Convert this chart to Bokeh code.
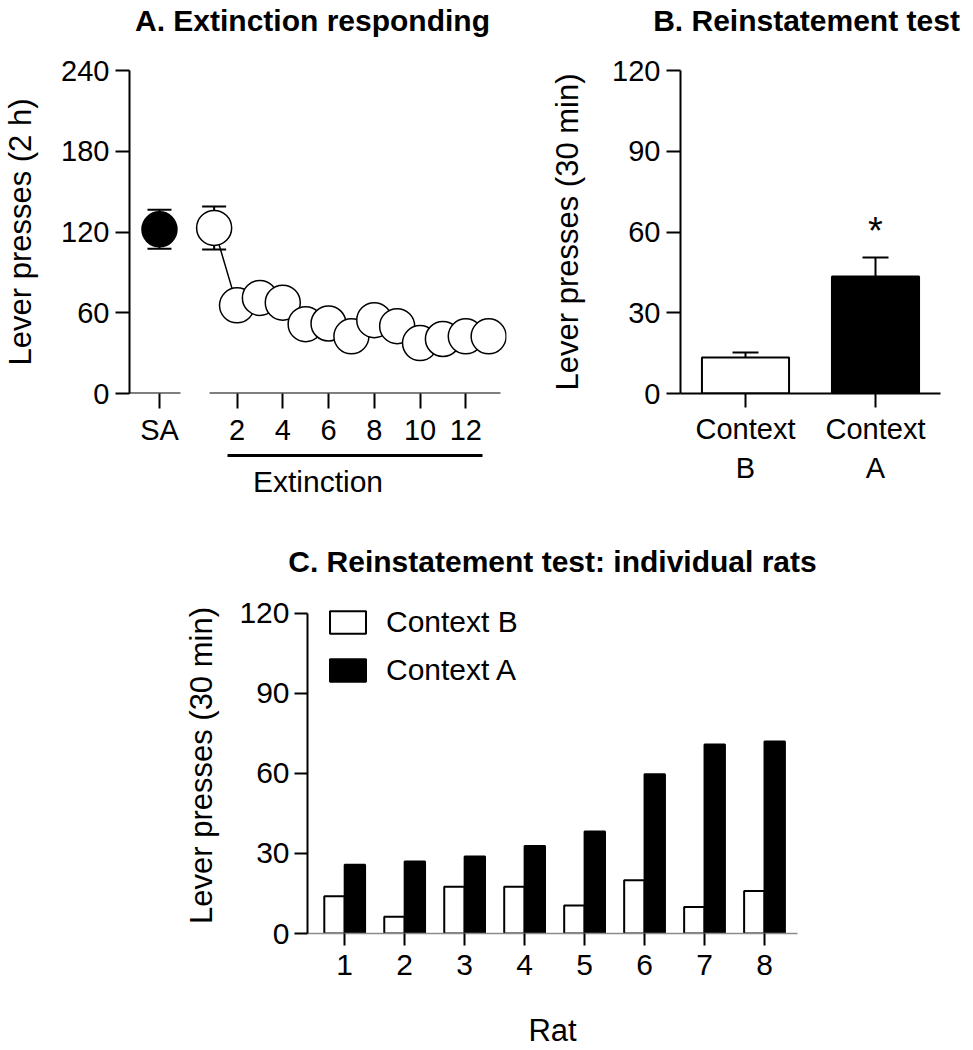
from bokeh.plotting import figure
from bokeh.models import (ColumnDataSource, LinearAxis, FixedTicker, Whisker,
                          TeeHead, Legend, LegendItem, Range1d, Label)
from bokeh.layouts import column, row
from bokeh.embed import file_html
from bokeh.resources import INLINE
from bokeh.transform import dodge, factor_cmap
from bokeh.core.properties import value

# ---------------- data ----------------
# Panel A: extinction responding (mean +/- SEM, lever presses per 2 h)
sa_label = "SA"
sa_mean = [122]
sa_sem = [14.5]
ext_session = [1, 2, 3, 4, 5, 6, 7, 8, 9, 10, 11, 12, 13]
ext_mean = [123, 65.5, 71, 67.5, 51.5, 52, 42.5, 54.5, 50, 37.5, 40.5, 42.5, 42.5]
ext_sem = [16, 7, 6, 8, 6, 7, 5, 7, 6, 5, 5, 5, 6]
ext_ticks = [2, 4, 6, 8, 10, 12]
a_yticks = [0, 60, 120, 180, 240]

# Panel B: reinstatement test (mean +/- SEM, lever presses per 30 min)
contexts = ["Context B", "Context A"]
test_mean = [13.4, 43.5]
test_sem = [1.8, 7.0]
test_sig = ["", "*"]
b_yticks = [0, 30, 60, 90, 120]

# Panel C: individual rats
rats = [1, 2, 3, 4, 5, 6, 7, 8]
rat_ctx_b = [14.0, 6.3, 17.5, 17.5, 10.5, 20.0, 9.9, 15.9]
rat_ctx_a = [25.8, 27.0, 28.9, 32.8, 38.2, 59.7, 70.8, 72.0]
c_yticks = [0, 30, 60, 90, 120]

panel_titles = ["A. Extinction responding", "B. Reinstatement test",
                "C. Reinstatement test: individual rats"]

# ---------------- style ----------------
FONT = "Liberation Sans"
INK = "#000000"


def style_axis(ax, size="29px", tick_out=14, standoff=6):
    ax.axis_line_color = INK
    ax.axis_line_width = 2
    ax.major_tick_line_color = INK
    ax.major_tick_line_width = 2
    ax.major_tick_out = tick_out
    ax.major_tick_in = 0
    ax.minor_tick_line_color = None
    ax.major_label_text_font = FONT
    ax.major_label_text_font_size = size
    ax.major_label_text_color = INK
    ax.major_label_standoff = standoff
    ax.axis_label_text_font = FONT
    ax.axis_label_text_font_style = "normal"
    ax.axis_label_text_color = INK


def bare_axis(ax):
    """Axis used only to draw a line (or only labels)."""
    ax.major_tick_out = 0
    ax.major_tick_in = 0
    ax.major_tick_line_color = None
    ax.minor_tick_line_color = None
    ax.major_label_standoff = 0


def base_fig(**kw):
    p = figure(output_backend="svg", toolbar_location=None, **kw)
    p.outline_line_color = None
    for g in p.grid:
        g.visible = False
    p.background_fill_color = "white"
    p.border_fill_color = "white"
    return p


def title_label(p, text, x, y):
    p.add_layout(Label(x=x, y=y, x_units="screen", y_units="screen", text=text,
                       text_align="center", text_baseline="alphabetic",
                       text_font=FONT, text_font_size="30px", text_font_style="bold",
                       text_color=INK))


# ---------------- title strip for panels A and B ----------------
pT = base_fig(width=973, height=40, x_range=Range1d(0, 1), y_range=Range1d(0, 1),
              x_axis_location=None, y_axis_location=None, min_border=0)
title_label(pT, panel_titles[0], 312, 20)
title_label(pT, panel_titles[1], 806, 20)

# ---------------- Panel A ----------------
XA = (-2.7, 13.78)
SA_X = -1.39
pA = base_fig(width=520, height=465, x_range=Range1d(*XA), y_range=Range1d(0, 240),
              x_axis_location=None, min_border_left=127, min_border_right=14,
              min_border_top=30, min_border_bottom=112)
yA = pA.yaxis[0]
style_axis(yA)
yA.ticker = FixedTicker(ticks=a_yticks)
yA.axis_label = "Lever presses (2 h)"
yA.axis_label_text_font_size = "31px"
yA.axis_label_standoff = 20

# tick marks + labels (no line); a tiny blank axis label adds the gap above the bar
ax_main = LinearAxis(ticker=FixedTicker(ticks=[SA_X] + ext_ticks),
                     major_label_overrides={SA_X: sa_label}, axis_label=" ")
style_axis(ax_main, tick_out=15, standoff=5)
ax_main.axis_line_color = None
ax_main.axis_label_text_font_size = "1px"
ax_main.axis_label_standoff = 3
pA.add_layout(ax_main, "below")
# "Extinction" bar with its label
ax_und = LinearAxis(bounds=(1.57, 12.74), ticker=FixedTicker(ticks=[]), axis_label="Extinction")
style_axis(ax_und)
bare_axis(ax_und)
ax_und.axis_line_width = 3
ax_und.axis_label_text_font_size = "30px"
ax_und.axis_label_standoff = 9
pA.add_layout(ax_und, "below")
# broken x-axis line: SA segment and extinction segment
for bnds in [(XA[0], -0.48), (0.78, 13.52)]:
    seg = LinearAxis(fixed_location=0, bounds=bnds, ticker=FixedTicker(ticks=[]))
    style_axis(seg)
    bare_axis(seg)
    pA.add_layout(seg, "below")

src_sa = ColumnDataSource(dict(x=[SA_X], m=sa_mean,
                               lo=[m - s for m, s in zip(sa_mean, sa_sem)],
                               hi=[m + s for m, s in zip(sa_mean, sa_sem)]))
src_ext = ColumnDataSource(dict(x=ext_session, m=ext_mean,
                                lo=[m - s for m, s in zip(ext_mean, ext_sem)],
                                hi=[m + s for m, s in zip(ext_mean, ext_sem)]))
for src in (src_sa, src_ext):
    pA.add_layout(Whisker(base="x", lower="lo", upper="hi", source=src, dimension="height",
                          line_color=INK, line_width=2,
                          upper_head=TeeHead(size=24, line_color=INK, line_width=2),
                          lower_head=TeeHead(size=24, line_color=INK, line_width=2)))
pA.line("x", "m", source=src_ext, line_color=INK, line_width=1.5)
pA.scatter("x", "m", source=src_sa, size=35, fill_color=INK, line_color=INK, line_width=1.5)
pA.scatter("x", "m", source=src_ext, size=35, fill_color="white", line_color=INK, line_width=1.5)

# ---------------- Panel B ----------------
ctx_pos = list(range(1, len(contexts) + 1))
pB = base_fig(width=453, height=465, x_range=Range1d(0.5, 2.5), y_range=Range1d(0, 120),
              min_border_left=160, min_border_right=33, min_border_top=30, min_border_bottom=112)
xB = pB.xaxis[0]
style_axis(xB, tick_out=14, standoff=5)
xB.ticker = FixedTicker(ticks=ctx_pos)
xB.major_label_overrides = {i: c.split(" ")[0] for i, c in zip(ctx_pos, contexts)}
xB2 = LinearAxis(ticker=FixedTicker(ticks=ctx_pos),
                 major_label_overrides={i: c.split(" ")[1] for i, c in zip(ctx_pos, contexts)})
style_axis(xB2)
bare_axis(xB2)
xB2.axis_line_color = None
xB2.major_label_standoff = 4
pB.add_layout(xB2, "below")
yB = pB.yaxis[0]
style_axis(yB)
yB.ticker = FixedTicker(ticks=b_yticks)
yB.axis_label = "Lever presses (30 min)"
yB.axis_label_text_font_size = "31px"
yB.axis_label_standoff = 24

src_b = ColumnDataSource(dict(x=ctx_pos, ctx=contexts, m=test_mean,
                              hi=[m + s for m, s in zip(test_mean, test_sem)],
                              star_y=[m + s + 10 for m, s in zip(test_mean, test_sem)],
                              sig=test_sig))
pB.add_layout(Whisker(base="x", lower="m", upper="hi", source=src_b, dimension="height",
                      line_color=INK, line_width=2,
                      upper_head=TeeHead(size=26, line_color=INK, line_width=2), lower_head=None))
pB.vbar(x="x", top="m", width=0.67, source=src_b,
        fill_color=factor_cmap("ctx", palette=["white", "black"], factors=contexts),
        line_color=INK, line_width=2)
pB.text(x="x", y="star_y", text="sig", source=src_b, text_align="center",
        text_baseline="alphabetic", text_font=value(FONT), text_font_size="38px", text_color=INK)

# ---------------- Panel C ----------------
YC_TOP = 125.94   # frame extends a little above 120 so the key is not clipped
pC = base_fig(width=973, height=545, x_range=Range1d(0.38, 8.55), y_range=Range1d(0, YC_TOP),
              title=panel_titles[2],
              min_border_left=307, min_border_right=176, min_border_top=92, min_border_bottom=114)
pC.title.text_font = FONT
pC.title.text_font_size = "30px"
pC.title.text_font_style = "bold"
pC.title.text_color = INK
pC.title.align = "center"
pC.title.offset = -49
pC.title.standoff = 40
xC = pC.xaxis[0]
style_axis(xC, size="30px", tick_out=12, standoff=9)
xC.ticker = FixedTicker(ticks=rats)
xC.axis_line_color = "#8c8c8c"
xC.axis_line_width = 1.5
xC.axis_label = "Rat"
xC.axis_label_text_font_size = "31px"
xC.axis_label_standoff = 35
yC = pC.yaxis[0]
style_axis(yC, size="30px", tick_out=13, standoff=5)
yC.ticker = FixedTicker(ticks=c_yticks)
yC.bounds = (0, 120)
yC.axis_label = "Lever presses (30 min)"
yC.axis_label_text_font_size = "31px"
yC.axis_label_standoff = 17

src_c = ColumnDataSource(dict(rat=rats, b=rat_ctx_b, a=rat_ctx_a))
rb = pC.vbar(x=dodge("rat", -0.17, range=pC.x_range), top="b", width=0.34, source=src_c,
             fill_color="white", line_color=INK, line_width=2)
ra = pC.vbar(x=dodge("rat", 0.17, range=pC.x_range), top="a", width=0.34, source=src_c,
             fill_color="black", line_color=INK, line_width=2)
legend = Legend(items=[LegendItem(label=contexts[0], renderers=[rb]),
                       LegendItem(label=contexts[1], renderers=[ra])],
                location=(18, 245), glyph_width=45, glyph_height=28, label_standoff=16,
                spacing=12, padding=0, margin=0, border_line_color=None,
                background_fill_alpha=0, label_text_font=FONT, label_text_font_size="30px",
                label_text_color=INK, label_height=36)
pC.add_layout(legend)

layout = column(row(pT), row(pA, pB), row(pC))
open("out.html", "w").write(file_html(layout, INLINE))
